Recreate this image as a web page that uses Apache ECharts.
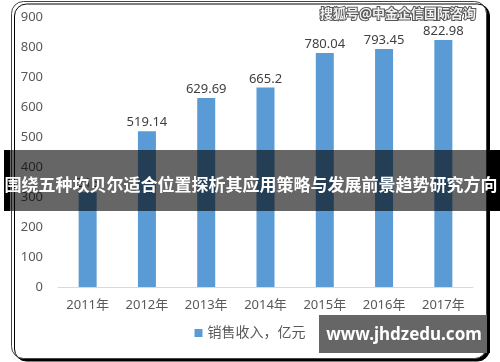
<!DOCTYPE html>
<html><head><meta charset="utf-8">
<script src="https://cdn.jsdelivr.net/npm/echarts@6/dist/echarts.min.js"></script>
<style>html,body{margin:0;padding:0;background:#fff}#c{width:500px;height:362px}</style>
</head><body><div id="c"></div>
<script>
const categories = ['2011年','2012年','2013年','2014年','2015年','2016年','2017年'];
const salesValues = [316, 519.14, 629.69, 665.2, 780.04, 793.45, 822.98];
const seriesName = '销售收入，亿元';
const bannerText = '围绕五种坎贝尔适合位置探析其应用策略与发展前景趋势研究方向';
const watermarkText = '搜狐号@中金企信国际咨询';
const siteText = 'www.jhdzedu.com';

const FONT = '"Noto Sans", "Noto Sans CJK SC", sans-serif';
const chart = echarts.init(document.getElementById('c'), null, {renderer: 'canvas'});
chart.setOption({
  animation: false,
  backgroundColor: '#fff',
  grid: {left: 58, right: 27, top: 17, bottom: 75},
  legend: {
    data: [seriesName], bottom: 17, left: 'center',
    icon: 'rect', itemWidth: 8, itemHeight: 8, itemGap: 10,
    textStyle: {fontFamily: FONT, fontSize: 14, color: '#595959'}
  },
  xAxis: {
    type: 'category', data: categories,
    axisLine: {lineStyle: {color: '#d9d9d9'}}, axisTick: {show: false},
    axisLabel: {fontFamily: FONT, fontSize: 13, color: '#595959', margin: 12}
  },
  yAxis: {
    type: 'value', min: 0, max: 900, interval: 100,
    splitLine: {show: false}, axisLine: {show: false}, axisTick: {show: false},
    axisLabel: {fontFamily: FONT, fontSize: 13, color: '#595959', margin: 15}
  },
  series: [{
    name: seriesName, type: 'bar', data: salesValues, barWidth: 18,
    itemStyle: {color: '#5B9BD5'},
    label: {show: true, position: 'top', distance: 2, fontFamily: FONT, fontSize: 13, color: '#404040'}
  }],
  graphic: [
    {type: 'rect', z: -1, shape: {x: 11.5, y: 1.5, width: 475, height: 357, r: 12},
     style: {fill: '#fff', stroke: '#444', lineWidth: 1, shadowColor: '#000', shadowOffsetX: 3, shadowOffsetY: 2.5, shadowBlur: 0}},
    {type: 'text', z: 50, right: 23, top: 6,
     style: {text: watermarkText, font: 'bold 13px "Noto Sans CJK SC", sans-serif', fill: '#f2f2f2', stroke: '#555', lineWidth: 2}},
    {type: 'rect', z: 90, shape: {x: 4, y: 150, width: 6, height: 61}, style: {fill: '#000'}},
    {type: 'rect', z: 90, shape: {x: 490, y: 150, width: 10, height: 61}, style: {fill: '#000'}},
    {type: 'rect', z: 100, shape: {x: 4, y: 150, width: 496, height: 61}, style: {fill: 'rgba(0,0,0,0.6)'}},
    {type: 'text', z: 101, x: 251, y: 185,
     style: {text: bannerText, font: 'bold 17px "Noto Sans CJK SC", sans-serif', fill: '#fff', textAlign: 'center', textVerticalAlign: 'middle'}},
    {type: 'rect', z: 100, shape: {x: 322, y: 315, width: 168, height: 38}, style: {fill: '#000'}},
    {type: 'rect', z: 101, shape: {x: 319, y: 315, width: 168, height: 38}, style: {fill: '#666'}},
    {type: 'text', z: 102, x: 404, y: 335,
     style: {text: siteText, font: 'bold 17px "Noto Sans", sans-serif', fill: '#fff', textAlign: 'center', textVerticalAlign: 'middle'}}
  ]
});
</script></body></html>
